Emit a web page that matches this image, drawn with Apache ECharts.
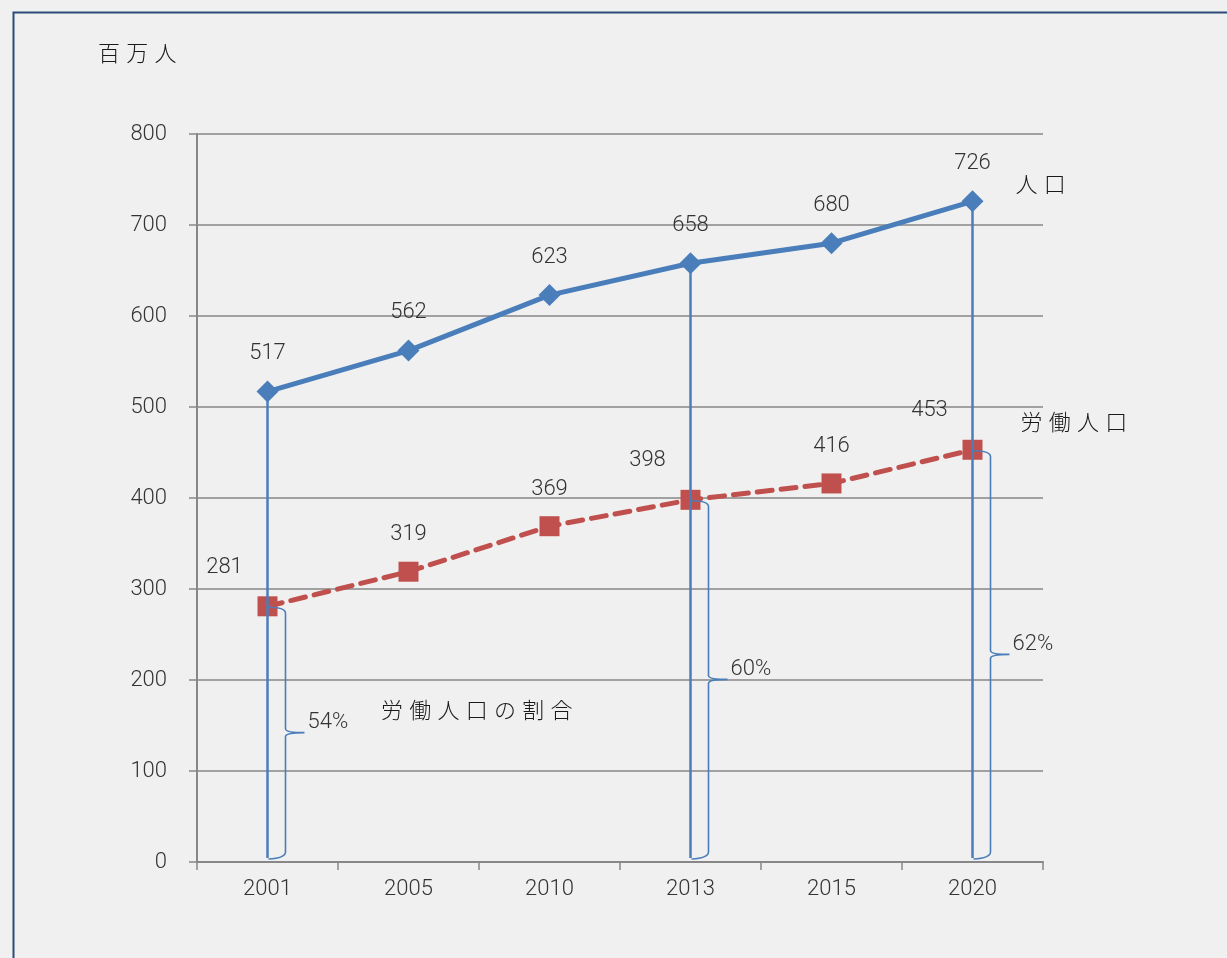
<!DOCTYPE html>
<html>
<head>
<meta charset="utf-8">
<script src="https://cdn.jsdelivr.net/npm/echarts@6/dist/echarts.min.js"></script>
<style>
html, body { margin: 0; padding: 0; background: #f0f0f0; }
#main { width: 1227px; height: 958px; }
</style>
</head>
<body>
<div id="main"></div>
<script>
// 人口と労働人口（百万人）
var years = ['2001', '2005', '2010', '2013', '2015', '2020'];
var population = [517, 562, 623, 658, 680, 726];
var labour = [281, 319, 369, 398, 416, 453];
var shareYears = ['2001', '2013', '2020'];
var shareLabels = ['54%', '60%', '62%'];
var yTicks = [0, 100, 200, 300, 400, 500, 600, 700, 800];

var numFont = 'Roboto, "DejaVu Sans Condensed", sans-serif';
var jpFont = '"Noto Sans CJK JP", sans-serif';
var blue = '#4a7ebb';
var red = '#c0504d';
var gray = '#878787';

function spaced(s) { return s.split('').join(' \u200A'); }

function initChart() {
    var dom = document.getElementById('main');
    var myChart = echarts.init(dom);

    var labourData = labour.map(function (v, i) {
        var item = { value: v };
        if (shareYears.indexOf(years[i]) >= 0) {
            item.label = { offset: [-43, -2] };
        }
        return item;
    });

    // 割合の括弧用データ [カテゴリ番号, 人口, 労働人口]
    var shareData = shareYears.map(function (y) {
        var i = years.indexOf(y);
        return [i, population[i], labour[i]];
    });

    var numLabel = { color: '#333', fontSize: 22, fontFamily: numFont, fontWeight: 300 };
    var jpLabel = { color: '#1a1a1a', fontSize: 22, fontFamily: jpFont, fontWeight: 300 };

    var option = {
        backgroundColor: '#f0f0f0',
        animation: false,
        grid: { left: 197, right: 184, top: 134, bottom: 96 },
        xAxis: {
            type: 'category',
            data: years,
            boundaryGap: true,
            axisLine: { lineStyle: { color: gray, width: 2 } },
            axisTick: { show: true, length: 8, lineStyle: { color: gray, width: 1.5 } },
            axisLabel: Object.assign({ margin: 16 }, numLabel),
            splitLine: { show: false }
        },
        yAxis: {
            type: 'value',
            min: yTicks[0],
            max: yTicks[yTicks.length - 1],
            interval: 100,
            axisLine: { show: true, lineStyle: { color: gray, width: 2 } },
            axisTick: { show: true, length: 8, lineStyle: { color: gray, width: 1.5 } },
            axisLabel: Object.assign({ margin: 30 }, numLabel),
            splitLine: { lineStyle: { color: gray, width: 1.5 } }
        },
        graphic: [
            {
                type: 'rect', left: 11, top: 10, z: -1, silent: true,
                shape: { width: 1240, height: 970 },
                style: { fill: null, stroke: '#2b4a78', lineWidth: 2 }
            },
            {
                type: 'text', left: 98, top: 42,
                style: { text: spaced('百万人'), font: '300 22px ' + jpFont, fill: '#1a1a1a' }
            },
            {
                type: 'text', left: 381, top: 699,
                style: { text: spaced('労働人口の割合'), font: '300 22px ' + jpFont, fill: '#1a1a1a' }
            }
        ],
        series: [
            {
                name: '労働人口',
                type: 'line',
                z: 2,
                data: labourData,
                symbol: 'rect',
                symbolSize: 20,
                itemStyle: { color: red },
                lineStyle: { color: red, width: 5, type: [15, 9], cap: 'round' },
                label: Object.assign({ show: true, position: 'top', distance: 16 }, numLabel),
                endLabel: Object.assign({
                    show: true,
                    offset: [40, -28],
                    formatter: function (p) { return spaced(p.seriesName); }
                }, jpLabel)
            },
            {
                name: 'share',
                type: 'custom',
                z: 3,
                data: shareData,
                renderItem: function (params, api) {
                    var i = api.value(0);
                    var base = api.coord([i, 0]);
                    var top = api.coord([i, api.value(1)]);
                    var sub = api.coord([i, api.value(2)]);
                    var x0 = base[0];
                    var yb = base[1] - 4;
                    var yt = sub[1] + 1;
                    var ym = (yb + yt) / 2;
                    var x1 = x0 + 18;
                    var x2 = x0 + 37;
                    var r = 6;
                    var path = 'M' + (x0 + 1) + ',' + yt +
                        ' Q' + x1 + ',' + yt + ' ' + x1 + ',' + (yt + r) +
                        ' L' + x1 + ',' + (ym - 4) +
                        ' Q' + x1 + ',' + ym + ' ' + x2 + ',' + ym +
                        ' Q' + x1 + ',' + ym + ' ' + x1 + ',' + (ym + 4) +
                        ' L' + x1 + ',' + (yb - r) +
                        ' Q' + x1 + ',' + yb + ' ' + (x0 + 1) + ',' + (yb + 1);
                    return {
                        type: 'group',
                        children: [
                            {
                                type: 'line',
                                shape: { x1: x0, y1: base[1] - 4, x2: x0, y2: top[1] },
                                style: { stroke: blue, lineWidth: 2.5 }
                            },
                            {
                                type: 'path',
                                shape: { pathData: path },
                                style: { fill: null, stroke: blue, lineWidth: 1.6 }
                            },
                            {
                                type: 'text',
                                x: x2 + 3, y: ym - 10,
                                style: {
                                    text: shareLabels[params.dataIndex],
                                    fill: '#333', fontSize: 22, fontFamily: numFont, fontWeight: 300,
                                    verticalAlign: 'middle', align: 'left'
                                }
                            }
                        ]
                    };
                }
            },
            {
                name: '人口',
                type: 'line',
                z: 4,
                data: population,
                symbol: 'diamond',
                symbolSize: [22, 22],
                itemStyle: { color: blue },
                lineStyle: { color: blue, width: 5 },
                label: Object.assign({ show: true, position: 'top', distance: 16 }, numLabel),
                endLabel: Object.assign({
                    show: true,
                    offset: [35, -18],
                    formatter: function (p) { return spaced(p.seriesName); }
                }, jpLabel)
            }
        ]
    };
    myChart.setOption(option, true);
}
initChart();
</script>
</body>
</html>
